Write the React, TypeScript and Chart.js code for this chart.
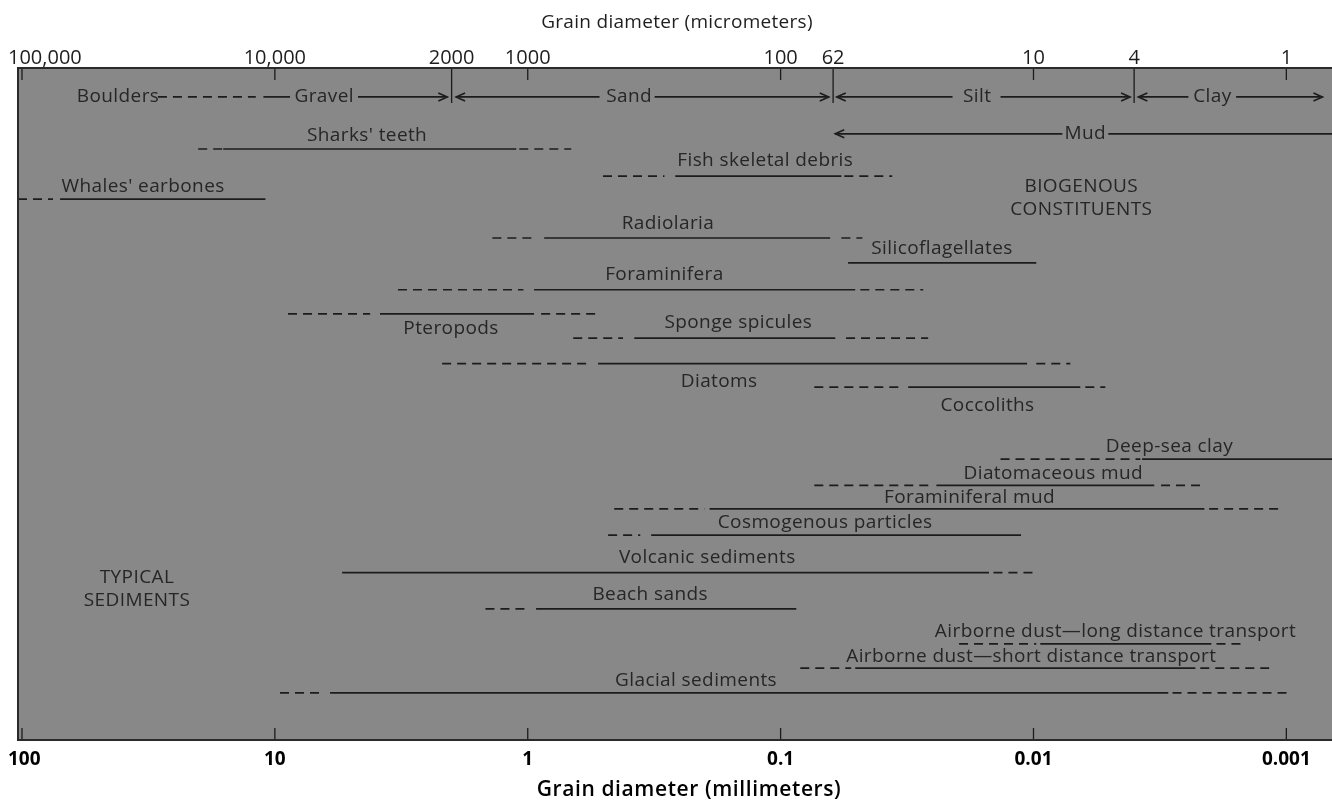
import React, { useEffect, useRef } from 'react';
import { Chart, registerables } from 'chart.js';

Chart.register(...registerables);

// ---- axis extents (grain diameter, mm) ----
const X_LEFT_MM = 103.7;
const X_RIGHT_MM = 0.00066;

// ---- tick definitions ----
const bottomTickValues = [100, 10, 1, 0.1, 0.01, 0.001];
const bottomTickLabels = ['100', '10', '1', '0.1', '0.01', '0.001'];
const topTickValues = [100, 10, 2, 1, 0.1, 0.062, 0.01, 0.004, 0.001];
const topTickLabels = ['100,000', '10,000', '2000', '1000', '100', '62', '10', '4', '1'];
const topTickBoundary = [false, false, true, false, false, true, false, true, false];

const bottomTitle = 'Grain diameter (millimeters)';
const topTitle = 'Grain diameter (micrometers)';

// segment: [from mm, to mm, dashed (0/1), arrow (0 none, 1 at "from", 2 at "to")]
type Seg = [number, number, number, number];

// ---- size classes row ----
const gradeLevel = 4.3;
const gradeNames = ['Boulders', 'Gravel', 'Sand', 'Silt', 'Clay'];
const gradeCenters = [41.7, 6.38, 0.397, 0.0167, 0.00196];
const gradeSegments: Seg[] = [
  [29.0, 11.9, 1, 0],
  [11.1, 8.71, 0, 0],
  [4.69, 2.08, 0, 2],
  [1.92, 0.52, 0, 1],
  [0.315, 0.0645, 0, 2],
  [0.06, 0.0209, 0, 1],
  [0.0135, 0.00415, 0, 2],
  [0.00385, 0.00244, 0, 1],
  [0.00158, 0.00072, 0, 2],
];

const mudLevel = 9.8;
const mudName = 'Mud';
const mudCenter = 0.00624;
const mudSegments: Seg[] = [
  [0.0608, 0.00769, 0, 1],
  [0.00506, 0.00066, 0, 0],
];

// ---- constituents & sediments ----
const rangeNames = [
  "Sharks' teeth",
  'Fish skeletal debris',
  "Whales' earbones",
  'Radiolaria',
  'Silicoflagellates',
  'Foraminifera',
  'Pteropods',
  'Sponge spicules',
  'Diatoms',
  'Coccoliths',
  'Deep-sea clay',
  'Diatomaceous mud',
  'Foraminiferal mud',
  'Cosmogenous particles',
  'Volcanic sediments',
  'Beach sands',
  'Airborne dust\u2014long distance transport',
  'Airborne dust\u2014short distance transport',
  'Glacial sediments',
];
const rangeLevels = [12.05, 16.1, 19.5, 25.3, 29.0, 33.0, 36.6, 40.2, 44.0, 47.5, 58.2, 62.1, 65.6, 69.5, 75.1, 80.5, 85.7, 89.3, 93.0];
const labelLevels = [10.0, 13.8, 17.6, 23.1, 26.9, 30.7, 38.8, 37.9, 46.6, 50.3, 56.3, 60.4, 64.0, 67.6, 72.8, 78.3, 83.8, 87.6, 91.1];
const labelCenters = [4.32, 0.115, 33.2, 0.279, 0.023, 0.288, 2.01, 0.147, 0.175, 0.0152, 0.0029, 0.00835, 0.0179, 0.0667, 0.195, 0.328, 0.00474, 0.0102, 0.216];
const rangeSegments: Seg[][] = [
  [[20.1, 16.0, 1, 0], [16.0, 1.11, 0, 0], [1.08, 0.673, 1, 0]],
  [[0.504, 0.288, 1, 0], [0.261, 0.0575, 0, 0], [0.056, 0.0362, 1, 0]],
  [[103.7, 75.4, 1, 0], [70.7, 10.9, 0, 0]],
  [[1.38, 0.918, 1, 0], [0.861, 0.0637, 0, 0], [0.0575, 0.0475, 1, 0]],
  [[0.0541, 0.00975, 0, 0]],
  [[3.26, 1.04, 1, 0], [0.944, 0.0507, 0, 0], [0.0484, 0.0273, 1, 0]],
  [[8.87, 4.2, 1, 0], [3.84, 0.944, 0, 0], [0.885, 0.527, 1, 0]],
  [[0.661, 0.42, 1, 0], [0.379, 0.0608, 0, 0], [0.0551, 0.0261, 1, 0]],
  [[2.18, 0.582, 1, 0], [0.527, 0.0106, 0, 0], [0.00975, 0.00715, 1, 0]],
  [[0.0736, 0.0337, 1, 0], [0.0313, 0.00653, 0, 0], [0.00624, 0.0052, 1, 0]],
  [[0.0135, 0.00378, 1, 0], [0.00372, 0.00066, 0, 0]],
  [[0.0736, 0.0258, 1, 0], [0.0242, 0.00333, 0, 0], [0.00313, 0.00211, 1, 0]],
  [[0.455, 0.2, 1, 0], [0.191, 0.00211, 0, 0], [0.00202, 0.00104, 1, 0]],
  [[0.481, 0.359, 1, 0], [0.325, 0.0112, 0, 0]],
  [[5.42, 0.015, 0, 0], [0.0144, 0.00984, 1, 0]],
  [[1.47, 1.03, 1, 0], [0.927, 0.0867, 0, 0]],
  [[0.0197, 0.00975, 1, 0], [0.0094, 0.00198, 0, 0], [0.00189, 0.00145, 1, 0]],
  [[0.0836, 0.0526, 1, 0], [0.0507, 0.00229, 0, 0], [0.00219, 0.00117, 1, 0]],
  [[9.54, 6.33, 1, 0], [6.05, 0.00293, 0, 0], [0.00282, 0.00099, 1, 0]],
];

// ---- group annotations ----
const groupTexts = ['BIOGENOUS', 'CONSTITUENTS', 'TYPICAL', 'SEDIMENTS'];
const groupCenters = [0.00647, 0.00647, 35.1, 35.1];
const groupLevels = [17.7, 21.1, 75.9, 79.2];

const LINE = '#1c1c1c';
const INK = '#262626';
const PLOT_BG = '#888888';
const LABEL_FONT = '19px "Open Sans", "DejaVu Sans", sans-serif';

function allSegments(): { seg: Seg; level: number }[] {
  const out: { seg: Seg; level: number }[] = [];
  gradeSegments.forEach((s) => out.push({ seg: s, level: gradeLevel }));
  mudSegments.forEach((s) => out.push({ seg: s, level: mudLevel }));
  rangeSegments.forEach((list, i) => list.forEach((s) => out.push({ seg: s, level: rangeLevels[i] })));
  return out;
}

const decorPlugin = {
  id: 'decor',
  beforeDraw(chart: any) {
    const { ctx, chartArea: a, width, height } = chart;
    ctx.save();
    ctx.fillStyle = '#ffffff';
    ctx.fillRect(0, 0, width, height);
    ctx.fillStyle = PLOT_BG;
    ctx.fillRect(a.left, a.top, a.right - a.left, a.bottom - a.top);
    ctx.restore();
  },
  afterDatasetsDraw(chart: any) {
    const { ctx, chartArea: a } = chart;
    const xs = chart.scales.x;
    const ys = chart.scales.y;
    ctx.save();

    // arrowheads
    ctx.strokeStyle = LINE;
    ctx.lineWidth = 1.6;
    allSegments().forEach(({ seg, level }) => {
      if (!seg[3]) return;
      const y = ys.getPixelForValue(level);
      const tip = xs.getPixelForValue(seg[3] === 1 ? seg[0] : seg[1]);
      const other = xs.getPixelForValue(seg[3] === 1 ? seg[1] : seg[0]);
      const dir = tip > other ? 1 : -1;
      ctx.beginPath();
      ctx.moveTo(tip - dir * 9, y - 4);
      ctx.lineTo(tip, y);
      ctx.lineTo(tip - dir * 9, y + 4);
      ctx.stroke();
    });

    // inward ticks: top
    ctx.lineWidth = 1.3;
    topTickValues.forEach((v, i) => {
      const x = xs.getPixelForValue(v);
      ctx.beginPath();
      ctx.moveTo(x, a.top);
      ctx.lineTo(x, a.top + (topTickBoundary[i] ? 35 : 12));
      ctx.stroke();
    });
    // inward ticks: bottom
    bottomTickValues.forEach((v) => {
      const x = xs.getPixelForValue(v);
      ctx.beginPath();
      ctx.moveTo(x, a.bottom);
      ctx.lineTo(x, a.bottom - 12);
      ctx.stroke();
    });

    // frame
    ctx.strokeStyle = '#2a2a2a';
    ctx.lineWidth = 2;
    ctx.beginPath();
    ctx.moveTo(a.right + 2, a.top);
    ctx.lineTo(a.left, a.top);
    ctx.lineTo(a.left, a.bottom);
    ctx.lineTo(a.right + 2, a.bottom);
    ctx.stroke();

    // in-plot labels
    ctx.fillStyle = INK;
    ctx.font = LABEL_FONT;
    (ctx as any).letterSpacing = '0.4px';
    ctx.textAlign = 'center';
    ctx.textBaseline = 'middle';
    gradeNames.forEach((n, i) => {
      ctx.fillText(n, xs.getPixelForValue(gradeCenters[i]), ys.getPixelForValue(gradeLevel));
    });
    ctx.fillText(mudName, xs.getPixelForValue(mudCenter), ys.getPixelForValue(mudLevel));
    rangeNames.forEach((n, i) => {
      ctx.fillText(n, xs.getPixelForValue(labelCenters[i]), ys.getPixelForValue(labelLevels[i]));
    });
    groupTexts.forEach((t, i) => {
      ctx.fillText(t, xs.getPixelForValue(groupCenters[i]), ys.getPixelForValue(groupLevels[i]));
    });
    (ctx as any).letterSpacing = '0px';

    // axis labels outside plot
    const W = chart.width;
    ctx.fillStyle = '#1e1e1e';
    ctx.font = '20px "Open Sans", "DejaVu Sans", sans-serif';
    ctx.textBaseline = 'alphabetic';
    topTickValues.forEach((v, i) => {
      const t = topTickLabels[i];
      const w = ctx.measureText(t).width;
      let x = xs.getPixelForValue(v);
      x = Math.max(x, w / 2 + 8);
      x = Math.min(x, W - w / 2 - 8);
      ctx.fillText(t, x, a.top - 4);
    });
    ctx.font = '19px "Open Sans", "DejaVu Sans", sans-serif';
    (ctx as any).letterSpacing = '0.3px';
    ctx.fillText(topTitle, (a.left + W) / 2 + 2, 28);
    (ctx as any).letterSpacing = '0px';

    ctx.fillStyle = '#000000';
    ctx.font = 'bold 19px "Open Sans", "DejaVu Sans", sans-serif';
    ctx.textBaseline = 'middle';
    bottomTickValues.forEach((v, i) => {
      const t = bottomTickLabels[i];
      const w = ctx.measureText(t).width;
      let x = xs.getPixelForValue(v);
      x = Math.max(x, w / 2 + 8);
      x = Math.min(x, W - w / 2 - 8);
      ctx.fillText(t, x, a.bottom + 20);
    });
    ctx.font = '600 21px "Open Sans", "DejaVu Sans", sans-serif';
    (ctx as any).letterSpacing = '0.6px';
    ctx.fillText(bottomTitle, (a.left + W) / 2 + 14, a.bottom + 50);
    (ctx as any).letterSpacing = '0px';

    ctx.restore();
  },
};

export default function App() {
  const canvasRef = useRef<HTMLCanvasElement | null>(null);

  useEffect(() => {
    if (!canvasRef.current) return;
    const datasets = allSegments().map(({ seg, level }) => ({
      data: [
        { x: seg[0], y: level },
        { x: seg[1], y: level },
      ],
      borderColor: LINE,
      borderWidth: 1.7,
      borderDash: seg[2] ? [9, 6] : [],
      pointRadius: 0,
      fill: false,
      tension: 0,
    }));
    const chart = new Chart(canvasRef.current, {
      type: 'line',
      data: { datasets },
      options: {
        animation: false,
        responsive: false,
        maintainAspectRatio: false,
        layout: { padding: { left: 18, top: 68, right: 0, bottom: 64 } },
        plugins: { legend: { display: false }, tooltip: { enabled: false } },
        scales: {
          x: {
            type: 'logarithmic',
            reverse: true,
            min: X_RIGHT_MM,
            max: X_LEFT_MM,
            display: false,
          },
          y: {
            type: 'linear',
            reverse: true,
            min: 0,
            max: 100,
            display: false,
          },
        },
      },
      plugins: [decorPlugin],
    });
    return () => chart.destroy();
  }, []);

  return (
    <div style={{ position: 'absolute', left: 0, top: 0, width: 1332, height: 804 }}>
      <canvas ref={canvasRef} width={1332} height={804} style={{ display: 'block' }} />
    </div>
  );
}
